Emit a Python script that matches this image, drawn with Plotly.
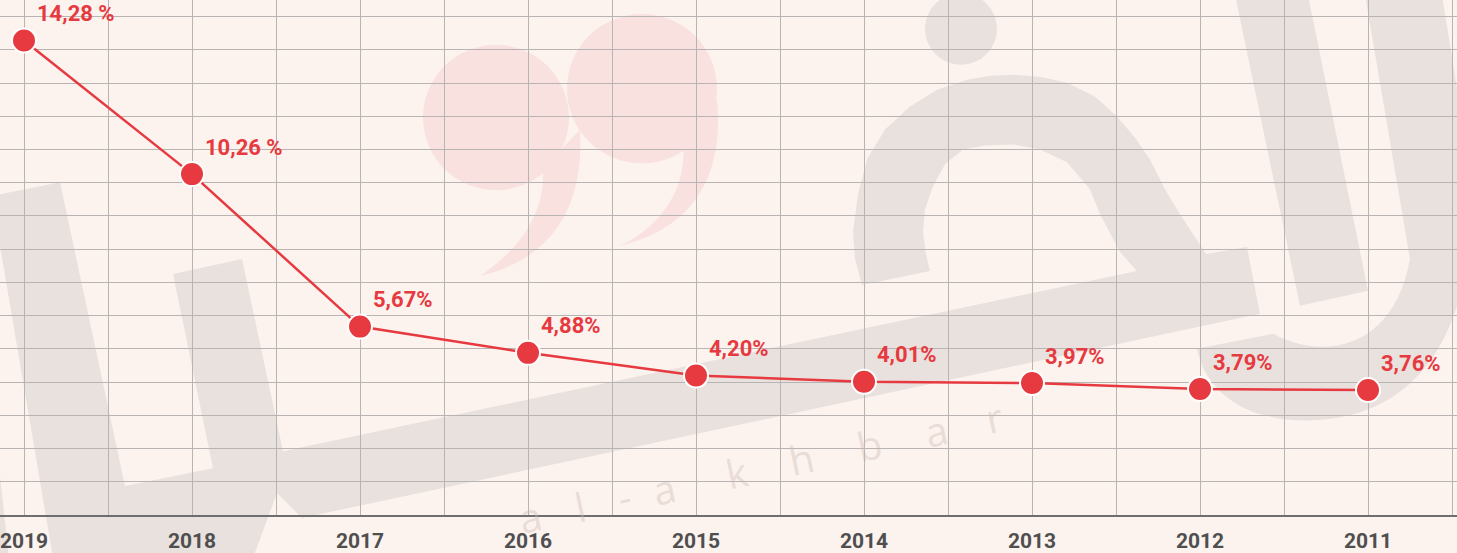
import plotly.graph_objects as go

# ---------------- data ----------------
years = ["2019", "2018", "2017", "2016", "2015", "2014", "2013", "2012", "2011"]
values = [14.28, 10.26, 5.67, 4.88, 4.20, 4.01, 3.97, 3.79, 3.76]
labels = ["14,28 %", "10,26 %", "5,67%", "4,88%", "4,20%", "4,01%", "3,97%", "3,79%", "3,76%"]
watermark_letters = ["a", "l", "-", "a", "k", "h", "b", "a", "r"]

# ---------------- style ----------------
W, H = 1457, 553
PB = 517  # plot-area bottom in px (margin bottom = H - PB)
BG = "#fcf3ef"
GRAY = "#e9e1dd"
PINK = "#f9e1e0"
RED = "#e63a40"
GRID = "#b9b4b4"

xs = list(range(len(years)))


def pp(x, y):
    return x / W, (PB - y) / PB


def path(cmds):
    out = []
    for c in cmds:
        op, pts = c[0], c[1:]
        if op == "Z":
            out.append("Z")
            continue
        coords = []
        for i in range(0, len(pts), 2):
            px, py = pp(pts[i], pts[i + 1])
            coords.append(f"{px:.5f},{py:.5f}")
        out.append(op + " " + " ".join(coords))
    return " ".join(out)


def poly(points):
    cmds = [("M",) + points[0]] + [("L",) + p for p in points[1:]] + [("Z",)]
    return path(cmds)


def circle(cx, cy, r, color):
    x0, y0 = pp(cx - r, cy + r)
    x1, y1 = pp(cx + r, cy - r)
    return dict(type="circle", xref="paper", yref="paper", x0=x0, y0=y0, x1=x1, y1=y1,
                fillcolor=color, line=dict(width=0), layer="below")


def shape_path(p, color):
    return dict(type="path", xref="paper", yref="paper", path=p, fillcolor=color,
                line=dict(width=0), layer="below")


shapes = []
# main watermark body (U + long band + kha)
main_pts = [(0, 195), (60, 183), (125, 488), (213, 470), (173, 275), (242, 260), (283, 453),
            (1137, 272), (1120, 253), (1100, 215), (1090, 190), (1067, 163), (1040, 150),
            (1013, 145), (985, 146), (963, 150), (945, 165), (933, 187), (925, 210), (923, 233),
            (926, 255), (930, 272), (862, 286), (855, 260), (853, 233), (858, 195), (867, 160),
            (885, 130), (910, 107), (937, 90), (967, 80), (990, 76), (1013, 75), (1040, 77),
            (1067, 83), (1095, 97), (1117, 117), (1135, 138), (1150, 160), (1165, 190),
            (1180, 215), (1195, 238), (1206, 255), (1247, 248), (1260, 315), (302, 520),
            (277, 495), (253, 560), (53, 560), (0, 247)]
shapes.append(shape_path(poly(main_pts), GRAY))
shapes.append(shape_path(poly([(0, 478), (9, 560), (0, 560)]), GRAY))
shapes.append(circle(961, 29, 36, GRAY))
# alif bar
shapes.append(shape_path(poly([(1235, -5), (1308, -5), (1368, 292), (1300, 307)]), GRAY))
# lam bar with bowl
shapes.append(shape_path(path([
    ("M", 1365, -5), ("L", 1442, -5), ("L", 1470, 170),
    ("C", 1480, 330, 1420, 425, 1300, 422),
    ("C", 1240, 420, 1205, 390, 1197, 350),
    ("L", 1273, 335),
    ("C", 1330, 365, 1395, 345, 1410, 260),
    ("Z",)]), GRAY))

# pink quotation marks
shapes.append(circle(496, 118, 73, PINK))
shapes.append(shape_path(path([
    ("M", 543, 170), ("C", 545, 215, 520, 250, 480, 277),
    ("C", 545, 262, 585, 215, 580, 130), ("Z",)]), PINK))
shapes.append(circle(642, 89, 75, PINK))
shapes.append(shape_path(path([
    ("M", 683, 140), ("C", 688, 185, 665, 225, 620, 247),
    ("C", 690, 230, 725, 180, 717, 100), ("Z",)]), PINK))

fig = go.Figure()

fig.add_trace(go.Scatter(
    x=xs, y=values, mode="lines+markers",
    line=dict(color=RED, width=2.5),
    marker=dict(size=24, color=RED, line=dict(color="#ffffff", width=2)),
    hoverinfo="skip", showlegend=False,
))

annotations = []
for xi, v, t in zip(xs, values, labels):
    annotations.append(dict(
        x=xi, y=v, xref="x", yref="y", text=f"<b>{t}</b>", showarrow=False,
        xanchor="left", yanchor="middle", xshift=11, yshift=27,
        font=dict(family="Roboto, Arial, sans-serif", size=22, color=RED),
    ))

# faint watermark lettering along a tilted line
wm_x = [530, 580, 624, 664, 736, 802, 869, 936, 994]
for ch, px in zip(watermark_letters, wm_x):
    py = 490 - 0.214 * (px - 664)
    ax, ay = pp(px, py)
    annotations.append(dict(
        x=ax, y=ay, xref="paper", yref="paper", text=ch, showarrow=False,
        textangle=-12, xanchor="center", yanchor="middle",
        font=dict(family="Open Sans, DejaVu Sans, sans-serif", size=40,
                  color="rgba(205,185,180,0.4)"),
    ))

tickvals = [i * 0.5 for i in range(2 * len(years))]
ticktext = [f"<b>{years[int(v)]}</b>" if v == int(v) else "" for v in tickvals]

fig.update_layout(
    width=W, height=H,
    margin=dict(l=0, r=0, t=0, b=H - PB),
    paper_bgcolor=BG, plot_bgcolor="rgba(0,0,0,0)",
    shapes=shapes, annotations=annotations,
    xaxis=dict(
        range=[-24 / 168, (W - 24) / 168],
        tickvals=tickvals, ticktext=ticktext,
        showgrid=True, gridcolor=GRID, gridwidth=1.3,
        showline=True, linecolor="#6e6e6e", linewidth=2,
        zeroline=False, ticks="", ticklabelstandoff=6,
        ticklabeloverflow="allow",
        tickfont=dict(family="Roboto, Arial, sans-serif", size=21, color="#4f4f4f"),
        fixedrange=True,
    ),
    yaxis=dict(
        range=[0, 15.5], dtick=1, tick0=0,
        showgrid=True, gridcolor=GRID, gridwidth=1.3,
        showticklabels=False, zeroline=False, showline=False, ticks="",
        fixedrange=True,
    ),
)

fig.write_html("out.html")
